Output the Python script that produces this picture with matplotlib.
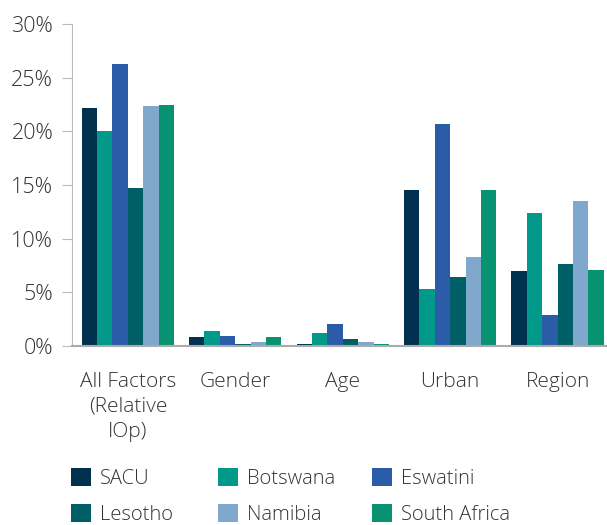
import matplotlib
matplotlib.use("Agg")
import matplotlib.pyplot as plt
import numpy as np

plt.rcParams['font.family'] = ['Open Sans', 'DejaVu Sans']

categories = ["All Factors\n(Relative\nIOp)", "Gender", "Age", "Urban", "Region"]
series = ["SACU", "Botswana", "Eswatini", "Lesotho", "Namibia", "South Africa"]
values = {
    "SACU":         [22.2, 0.85, 0.2, 14.5, 7.0],
    "Botswana":     [20.0, 1.4, 1.2, 5.3, 12.4],
    "Eswatini":     [26.3, 0.95, 2.05, 20.7, 2.9],
    "Lesotho":      [14.7, 0.15, 0.65, 6.4, 7.6],
    "Namibia":      [22.4, 0.37, 0.4, 8.3, 13.5],
    "South Africa": [22.5, 0.85, 0.2, 14.5, 7.1],
}
colors = ["#00314F", "#00998A", "#2B5CA8", "#005F66", "#7FA8CC", "#079372"]
yticks = [0, 5, 10, 15, 20, 25, 30]

fig = plt.figure(figsize=(6.07, 5.25), dpi=100)
ax = fig.add_axes([0.1186, 0.341, 0.8814, 0.613])

x = np.arange(len(categories))
n = len(series)
w = 0.86 / n
handles = []
for i, s in enumerate(series):
    b = ax.bar(x + (i - (n - 1) / 2) * w, values[s], width=w, color=colors[i], label=s)
    handles.append(b)

ax.set_ylim(0, 30)
ax.set_xlim(-0.52, 4.46)
ax.set_yticks(yticks)
ax.set_yticklabels([f"{t}%" for t in yticks])
ax.set_xticks(x)
ax.set_xticklabels(categories, linespacing=1.35)
for sp in ["top", "right"]:
    ax.spines[sp].set_visible(False)
ax.spines["left"].set_color("#BBBBBB")
ax.spines["bottom"].set_color("#AAAAAA")
ax.spines["bottom"].set_linewidth(1.5)
ax.tick_params(axis="y", length=7.5, color="#BBBBBB", labelsize=15.5, labelcolor="#333333", pad=6)
ax.tick_params(axis="x", length=0, labelsize=15, labelcolor="#333333", pad=18.5)
for lbl in ax.get_xticklabels() + ax.get_yticklabels():
    lbl.set_fontweight("light")

# legend: three columns, row-major order as in the reference
col_x = [73, 220, 374]
for c in range(3):
    hs = [handles[c], handles[c + 3]]
    ls = [series[c], series[c + 3]]
    leg = fig.legend(hs, ls, loc="upper left",
                     bbox_to_anchor=((col_x[c] - 2) / 607, 1 - 468 / 525),
                     borderaxespad=0, borderpad=0, frameon=False,
                     fontsize=14.5, labelcolor="#333333",
                     handlelength=1.0, handleheight=1.0, handletextpad=0.45,
                     labelspacing=0.74)
    for t in leg.get_texts():
        t.set_fontweight("light")

fig.savefig("out.png", dpi=100)
